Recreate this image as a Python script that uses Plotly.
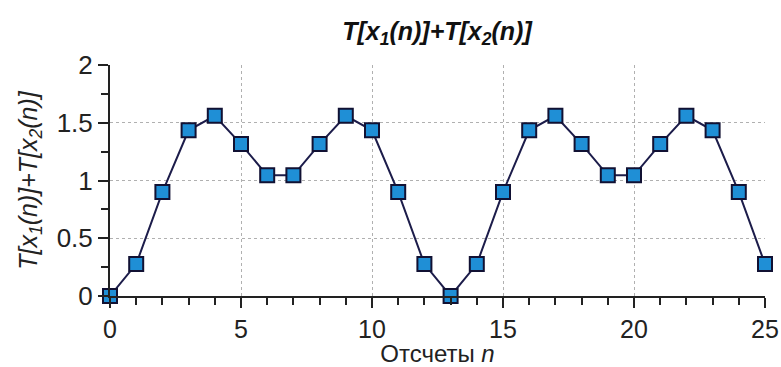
import plotly.graph_objects as go

n_values = list(range(26))
y_values = [0, 0.276, 0.9, 1.435, 1.56, 1.315, 1.045, 1.045, 1.315, 1.56, 1.435, 0.9, 0.276, 0,
            0.276, 0.9, 1.435, 1.56, 1.315, 1.045, 1.045, 1.315, 1.56, 1.435, 0.9, 0.276]

title_text = "<b><i>T[x<sub>1</sub>(n)]+T[x<sub>2</sub>(n)]</i></b>"
x_title = "Отсчеты <i>n</i>"
y_title = "<i>T[x<sub>1</sub>(n)]+T[x<sub>2</sub>(n)]</i>"

fig = go.Figure()
fig.add_trace(go.Scatter(
    x=n_values, y=y_values, mode="lines+markers",
    line=dict(color="#1c1c4a", width=2),
    marker=dict(symbol="square", size=14, color="#1f8fd6",
                line=dict(color="#111133", width=2)),
    cliponaxis=False, showlegend=False,
))

font_family = "Liberation Sans, Arial, sans-serif"
fig.update_layout(
    width=781, height=367,
    margin=dict(l=110, r=16, t=65, b=71, autoexpand=False),
    paper_bgcolor="white", plot_bgcolor="white",
    title=dict(text=title_text, x=0.5595, xanchor="center", y=0.915, yanchor="middle",
               font=dict(family=font_family, size=25, color="#111")),
    font=dict(family=font_family, color="#222"),
)
fig.update_xaxes(
    range=[0, 25], tickmode="linear", tick0=0, dtick=5, automargin=False,
    ticks="outside", ticklen=10, tickwidth=2, tickcolor="#222",
    showline=True, linecolor="#222", linewidth=2,
    showgrid=True, gridcolor="#b0b0b0", griddash="dot", gridwidth=1,
    tickfont=dict(size=25, color="#222"),
    minor=dict(dtick=1, ticks="outside", ticklen=7, tickwidth=2, tickcolor="#222", showgrid=False),
    title=dict(text=x_title, font=dict(size=24, color="#222"), standoff=7),
    zeroline=False,
)
fig.update_yaxes(
    range=[0, 2], tickmode="linear", tick0=0, dtick=0.5, automargin=False,
    ticks="outside", ticklen=10, tickwidth=2, tickcolor="#222",
    showline=True, linecolor="#222", linewidth=2,
    showgrid=True, gridcolor="#b0b0b0", griddash="dot", gridwidth=1,
    tickfont=dict(size=26, color="#222"),
    minor=dict(dtick=0.25, ticks="outside", ticklen=7, tickwidth=2, tickcolor="#222", showgrid=False),
    title=dict(text=y_title, font=dict(size=25, color="#222"), standoff=12),
    zeroline=False,
)
fig.write_html("out.html", config={"displayModeBar": False},
               post_script="document.body.style.margin='0';")
